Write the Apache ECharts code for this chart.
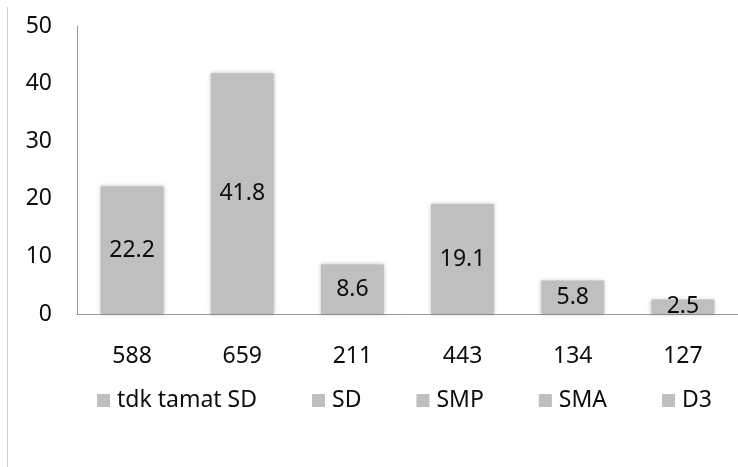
<!DOCTYPE html>
<html>
<head>
<meta charset="utf-8">
<script src="https://cdn.jsdelivr.net/npm/echarts@6/dist/echarts.min.js"></script>
<style>
  html, body { margin: 0; padding: 0; background: #fff; }
  #chart { width: 738px; height: 467px; }
</style>
</head>
<body>
<div id="chart"></div>
<script>
// chart data
const categories = ['588', '659', '211', '443', '134', '127']
const values = [22.2, 41.8, 8.6, 19.1, 5.8, 2.5]
const legendNames = ['tdk tamat SD', 'SD', 'SMP', 'SMA', 'D3']
const yMin = 0
const yMax = 50
const yStep = 10

const barColor = '#bfbfbf'
const font = 'Noto Sans'
const textColor = '#0d0d0d'

const chart = echarts.init(document.getElementById('chart'))

// legend entries only (empty line series so bars keep their slot)
const legendSeries = legendNames.map(name => ({
  name: name,
  type: 'line',
  data: [],
  itemStyle: { color: barColor }
}))

chart.setOption({
  animation: false,
  textStyle: { fontFamily: font },
  grid: {
    left: 77,
    top: 26,
    width: 670,
    height: 288,
    containLabel: false
  },
  legend: {
    data: legendNames,
    left: 97,
    top: 389,
    padding: 0,
    icon: 'rect',
    itemWidth: 13,
    itemHeight: 13,
    itemGap: 55,
    textStyle: { fontFamily: font, fontSize: 23, color: textColor, padding: [0, 0, 0, 2] }
  },
  xAxis: {
    type: 'category',
    data: categories,
    axisLine: { lineStyle: { color: '#9a9a9a', width: 1 } },
    axisTick: { show: false },
    axisLabel: {
      fontFamily: font,
      fontSize: 23,
      lineHeight: 23,
      color: textColor,
      margin: 31
    }
  },
  yAxis: {
    type: 'value',
    min: yMin,
    max: yMax,
    interval: yStep,
    axisLine: { show: true, lineStyle: { color: '#9a9a9a', width: 1 } },
    axisTick: { show: false },
    splitLine: { show: false },
    axisLabel: {
      fontFamily: font,
      fontSize: 23,
      color: textColor,
      margin: 25
    }
  },
  graphic: [{
    type: 'line',
    shape: { x1: 7.5, y1: 7, x2: 7.5, y2: 467 },
    style: { stroke: '#cfcfcf', lineWidth: 1 }
  }],
  series: [{
    name: 'nilai',
    type: 'bar',
    data: values,
    barWidth: 63,
    itemStyle: {
      color: barColor,
      shadowColor: 'rgba(0,0,0,0.25)',
      shadowBlur: 4
    },
    label: {
      show: true,
      position: 'inside',
      fontFamily: font,
      fontSize: 23,
      color: textColor
    }
  }].concat(legendSeries)
})
</script>
</body>
</html>
